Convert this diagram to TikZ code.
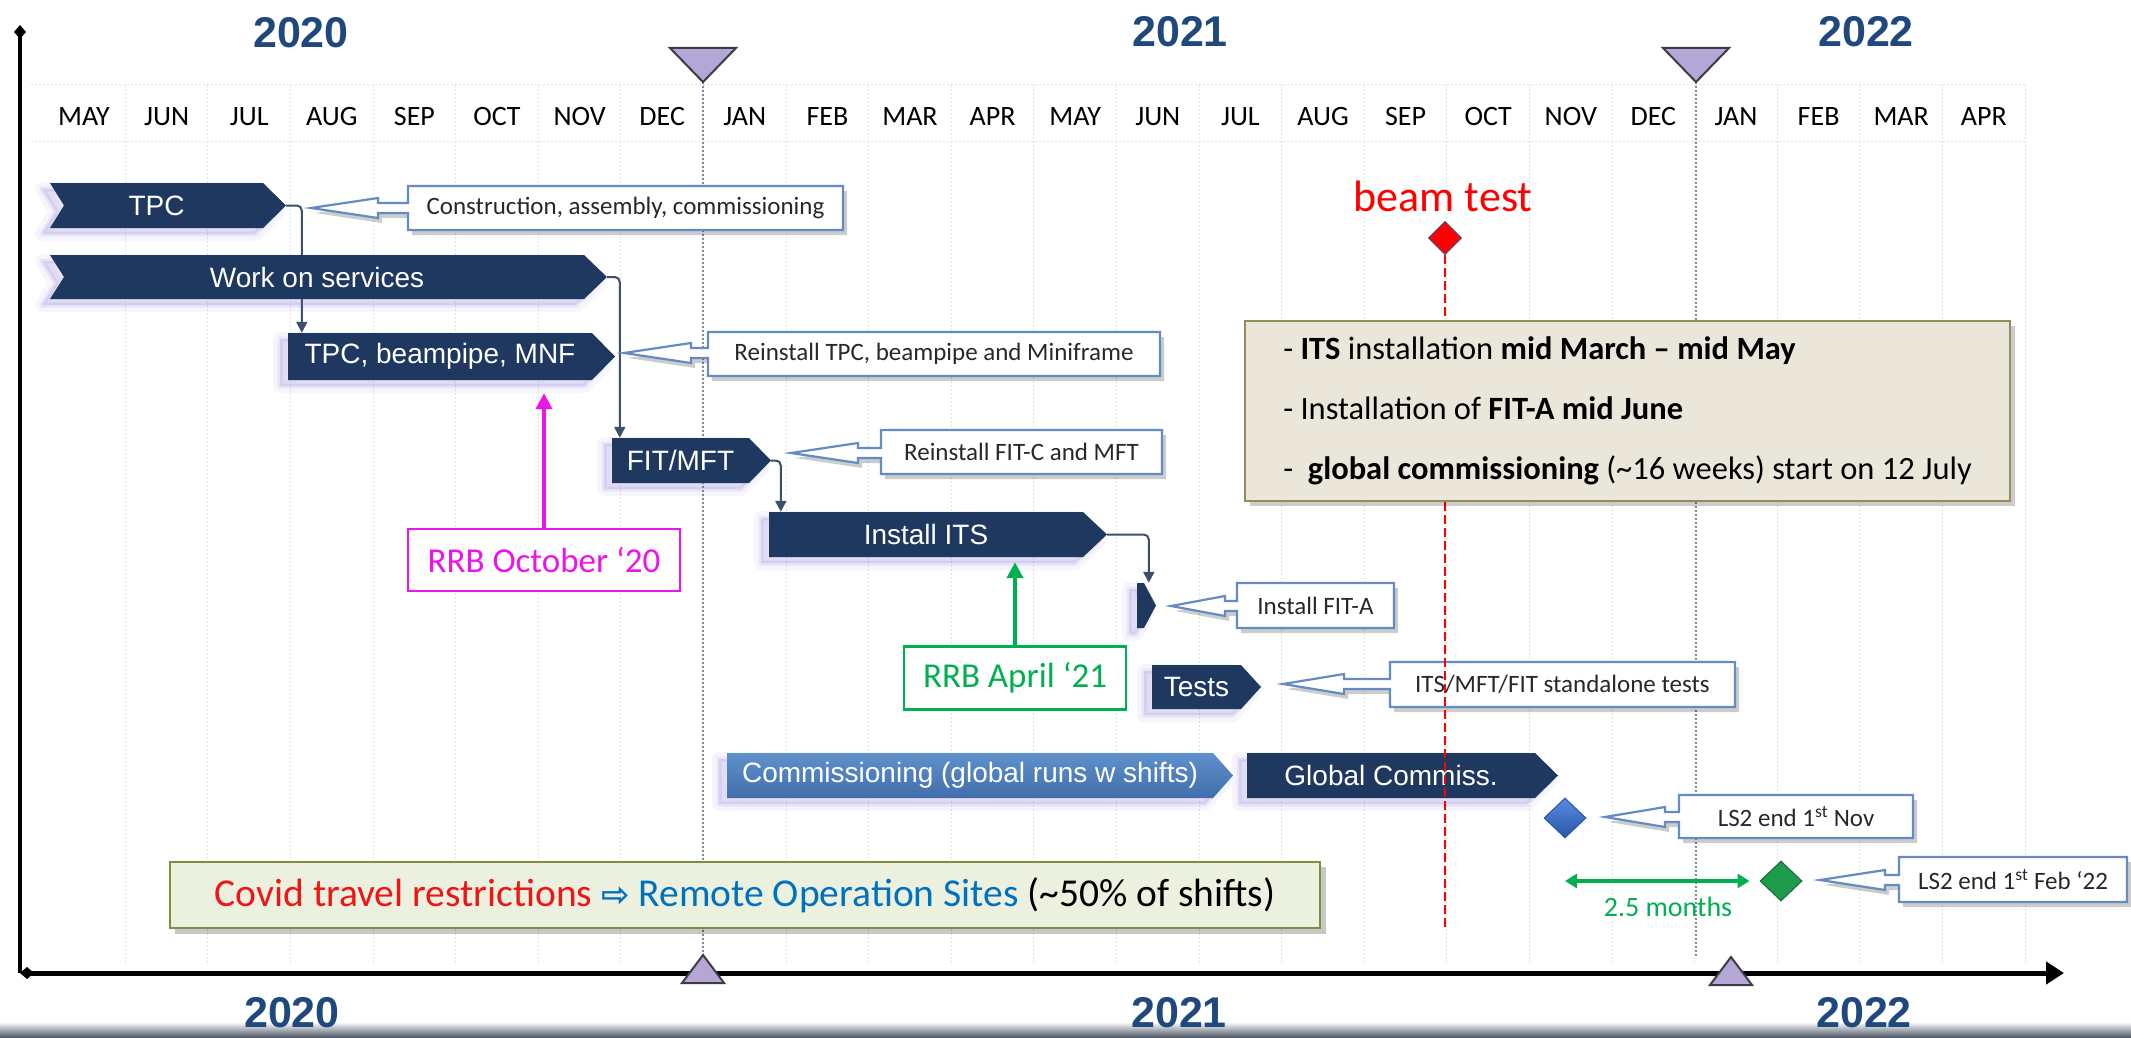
\documentclass[tikz,border=0pt]{standalone}
\usepackage{fontspec}
\setmainfont{Carlito}
\newfontfamily\arialf{Liberation Sans}
\newfontfamily\dejavu{DejaVu Sans}
\usetikzlibrary{arrows.meta,shapes.geometric,calc}
\pgfdeclarelayer{base}
\pgfdeclarelayer{grid}
\pgfdeclarelayer{conn}
\pgfdeclarelayer{mid}
\pgfsetlayers{base,grid,conn,mid,main}

\definecolor{navy}{RGB}{31,56,96}
\definecolor{yearc}{RGB}{31,73,125}
\definecolor{commtop}{RGB}{95,145,205}
\definecolor{commbot}{RGB}{65,110,170}
\definecolor{glowc}{RGB}{110,90,210}
\definecolor{callb}{RGB}{100,140,195}
\definecolor{calltxt}{RGB}{40,40,40}
\definecolor{connc}{RGB}{60,80,110}
\definecolor{lav}{RGB}{180,167,214}
\definecolor{gridc}{RGB}{226,226,226}
\definecolor{yearline}{RGB}{130,140,160}
\definecolor{rrbmag}{RGB}{235,20,235}
\definecolor{rrbgreen}{RGB}{0,176,80}
\definecolor{beigef}{RGB}{234,231,218}
\definecolor{beiged}{RGB}{150,140,90}
\definecolor{covidf}{RGB}{235,241,222}
\definecolor{covidd}{RGB}{120,145,65}
\definecolor{blueT}{RGB}{0,112,192}
\definecolor{covred}{RGB}{240,20,20}
\definecolor{diamtop}{RGB}{90,140,225}
\definecolor{diambot}{RGB}{40,85,170}
\definecolor{diamgreen}{RGB}{30,155,75}

\tikzset{
  bartext/.style={text=white, font=\arialf\fontsize{28}{32}\selectfont, inner sep=0pt},
  calltext/.style={text=calltxt, font=\fontsize{25}{28}\selectfont, inner sep=0pt},
  callbox/.style={fill=white, draw=callb, line width=2.2pt, line join=miter},
  conn/.style={draw=connc, line width=2pt, rounded corners=5pt, -{Triangle[length=11pt,width=11pt]}},
  month/.style={font=\fontsize{28}{30}\selectfont, inner sep=0pt},
  year/.style={font=\arialf\bfseries\fontsize{43}{45}\selectfont, text=yearc, inner sep=0pt},
  gridline/.style={draw=gridc, line width=1pt, dash pattern=on 2pt off 2pt},
  yearln/.style={draw=yearline, line width=1.5pt, dash pattern=on 2pt off 2pt},
  tri/.style={fill=lav, draw={rgb,255:red,60;green,60;blue,70}, line width=2pt, line join=miter},
  rrbbox/.style={fill=white, line width=2.5pt, inner sep=0pt, font=\fontsize{35}{40}\selectfont},
}

% bar: name, fill style, x0, x1, xtip, ytop, ybot, notch, text
\newcommand{\gbar}[9]{%
  \begin{pgfonlayer}{mid}
    \begin{scope}[shift={(-8,6)}]
      \filldraw[glowc, opacity=0.06, line width=14pt, line join=round] (#3,#6) -- (#4,#6) -- (#5,{(#6+#7)/2}) -- (#4,#7) -- (#3,#7) -- ({#3+#8},{(#6+#7)/2}) -- cycle;
      \filldraw[glowc, opacity=0.10, line width=5pt, line join=round] (#3,#6) -- (#4,#6) -- (#5,{(#6+#7)/2}) -- (#4,#7) -- (#3,#7) -- ({#3+#8},{(#6+#7)/2}) -- cycle;
    \end{scope}
    \path[#2] (#3,#6) -- (#4,#6) -- (#5,{(#6+#7)/2}) -- (#4,#7) -- (#3,#7) -- ({#3+#8},{(#6+#7)/2}) -- cycle;
  \end{pgfonlayer}
  \node[bartext, minimum width={(#4-#3)*1pt}, minimum height={(#7-#6)*1pt}] (#1) at ({(#3+#4)/2},{(#6+#7)/2}) {#9};
  \coordinate (#1-tip) at (#5,{(#6+#7)/2});
}

% callout: name, bx0, bx1, by0, by1, tipx, tipy, headx, text
\newcommand{\callout}[9]{%
  \begin{pgfonlayer}{mid}
    \fill[black, opacity=0.2, shift={(4,5)}] (#2,#4) -- (#3,#4) -- (#3,#5) -- (#2,#5) -- (#2,{#7+5}) -- (#8,{#7+5}) -- (#8,{#7+10}) -- (#6,#7) -- (#8,{#7-10}) -- (#8,{#7-5}) -- (#2,{#7-5}) -- cycle;
    \path[callbox] (#2,#4) -- (#3,#4) -- (#3,#5) -- (#2,#5) -- (#2,{#7+5}) -- (#8,{#7+5}) -- (#8,{#7+10}) -- (#6,#7) -- (#8,{#7-10}) -- (#8,{#7-5}) -- (#2,{#7-5}) -- cycle;
  \end{pgfonlayer}
  \node[calltext] (#1) at ({(#2+#3)/2},{(#4+#5)/2}) {#9};
  \coordinate (#1-tip) at (#6,#7);
}

\begin{document}
\begin{tikzpicture}[x=1pt,y=-1pt]
\useasboundingbox (0,0) rectangle (2131,1038);
\begin{pgfonlayer}{base}
  \fill[white] (0,0) rectangle (2131,1038);
  \shade[top color=white, bottom color={rgb,255:red,70;green,80;blue,95}] (0,1022) rectangle (2131,1038);
\end{pgfonlayer}

% grid
\begin{pgfonlayer}{grid}
  \foreach \k in {0,...,23} \draw[gridline] ({84+82.6*(\k+0.5)},85) -- ({84+82.6*(\k+0.5)},965);
  \draw[gridline] (31,85) -- (2027,85);
  \draw[gridline] (31,142) -- (2027,142);
  \draw[yearln] (703,82) -- (703,955);
  \draw[yearln] (1696,82) -- (1696,957);
\end{pgfonlayer}

% months
\foreach \m [count=\i from 0] in {MAY,JUN,JUL,AUG,SEP,OCT,NOV,DEC,JAN,FEB,MAR,APR,MAY,JUN,JUL,AUG,SEP,OCT,NOV,DEC,JAN,FEB,MAR,APR}
  \node[month] (m\i) at ({84+82.6*\i},117) {\m};

% years
\node[year] (y20t) at (301,33) {2020};
\node[year] (y21t) at (1180,32) {2021};
\node[year] (y22t) at (1866,32) {2022};
\node[year] (y20b) at (292,1013) {2020};
\node[year] (y21b) at (1179,1013) {2021};
\node[year] (y22b) at (1864,1013) {2022};

% axes
\draw[line width=4pt, {Diamond[length=14pt,width=12pt]}-] (20,25) -- (20,973);
\draw[line width=5pt, {Diamond[length=14pt,width=12pt]}-{Triangle[length=18pt,width=22pt]}] (20,973) -- (2064,973);

% triangles
\draw[tri] (670,48) -- (736,48) -- (703,82) -- cycle;
\draw[tri] (1663,48) -- (1729,48) -- (1696,82) -- cycle;
\draw[tri] (682,983) -- (724,983) -- (703,955) -- cycle;
\draw[tri] (1710,985) -- (1752,985) -- (1731,957) -- cycle;

% bars
\gbar{tpc}{fill=navy}{50}{263}{286}{183}{228}{14}{TPC}
\gbar{work}{fill=navy}{50}{584}{607}{255}{299}{14}{Work on services}
\gbar{bp}{fill=navy}{288}{592}{615}{333}{380}{0}{TPC, beampipe, MNF}
\gbar{fit}{fill=navy}{612}{749}{771}{438}{483}{0}{FIT/MFT}
\gbar{its}{fill=navy}{769}{1083}{1107}{512}{557}{0}{Install ITS}
\gbar{fita}{fill=navy}{1137}{1144}{1156}{583}{628}{0}{}
\gbar{tests}{fill=navy}{1152}{1241}{1261}{665}{709}{0}{Tests}
\gbar{comm}{top color=commtop,bottom color=commbot}{727}{1213}{1233}{753}{798}{0}{Commissioning (global runs w shifts)}
\gbar{glob}{fill=navy}{1247}{1535}{1558}{753}{798}{0}{Global Commiss.}

% connectors
\begin{pgfonlayer}{conn}
  \draw[conn] (tpc-tip) -| ([xshift=14pt]bp.north west);
  \draw[conn] (work-tip) -| ([xshift=8pt]fit.north west);
  \draw[conn] (fit-tip) -| ([xshift=12pt]its.north west);
  \draw[conn] (its-tip) -| ([xshift=12pt]fita.north west);
\end{pgfonlayer}

% callouts
\callout{c1}{408}{843}{186}{230}{311}{208}{378}{Construction, assembly, commissioning}
\callout{c2}{708}{1160}{332}{376}{624}{353}{691}{Reinstall TPC, beampipe and Miniframe}
\callout{c3}{881}{1162}{430}{474}{791}{453}{858}{Reinstall FIT-C and MFT}
\callout{c4}{1237}{1394}{583}{628}{1171}{606}{1225}{Install FIT-A}
\callout{c5}{1390}{1735}{662}{707}{1283}{684}{1344}{ITS/MFT/FIT standalone tests}
\callout{c6}{1679}{1913}{795}{838}{1605}{817}{1665}{LS2 end 1\textsuperscript{st} Nov}
\callout{c7}{1899}{2127}{857}{902}{1820}{880}{1885}{LS2 end 1\textsuperscript{st} Feb ‘22}

% diamonds
\node[diamond, minimum width=42pt, minimum height=40pt, inner sep=0pt, top color=diamtop, bottom color=diambot, draw=diambot, line width=1pt] (bdia) at (1565,818) {};
\node[diamond, minimum width=42pt, minimum height=40pt, inner sep=0pt, fill=diamgreen, draw=diamgreen!70!black, line width=1pt] (gdia) at (1781,881) {};
\draw[rrbgreen, line width=4pt, {Triangle[length=12pt,width=14pt]}-{Triangle[length=12pt,width=14pt]}] (bdia.south |- gdia) -- ([xshift=-10pt]gdia.west);
\node[text=rrbgreen, font=\fontsize{28}{30}\selectfont, inner sep=0pt] (months) at (1668,907) {2.5 months};

% beam test
\node[text=red, font=\fontsize{44}{48}\selectfont, inner sep=0pt] (bt) at (1443,196) {beam test};
\node[diamond, minimum width=33pt, minimum height=33pt, inner sep=0pt, fill=red, draw={rgb,255:red,90;green,70;blue,110}, line width=1.2pt] (beam) at (1445,238) {};
\coordinate (beamend) at (1445,930);
\draw[red, line width=2.5pt, dash pattern=on 9pt off 4pt] (beam.south) -- (beamend);

% info box
\fill[black, opacity=0.2] (1250,326) rectangle (2015,506);
\node[fill=beigef, draw=beiged, line width=2.5pt, align=left, minimum width=765pt, minimum height=180pt, font=\fontsize{32.5}{60}\selectfont] (info) at (1627.5,411)
  {- \textbf{ITS} installation \textbf{mid March -- mid May}\\- Installation of \textbf{FIT-A mid June}\\-\ \ \textbf{global commissioning} (\textasciitilde16 weeks) start on 12 July};

% RRB boxes
\node[rrbbox, draw=rrbmag, text=rrbmag, minimum width=272pt, minimum height=62pt] (rrb1) at (544,560) {RRB October ‘20};
\draw[rrbmag, line width=4.5pt, -{Triangle[length=16pt,width=16pt]}] (rrb1.north) -- ([yshift=-13pt]rrb1.north |- bp.south);
\node[rrbbox, draw=rrbgreen, text=rrbgreen, minimum width=222pt, minimum height=63pt] (rrb2) at (1015,678) {RRB April ‘21};
\draw[rrbgreen, line width=4.5pt, -{Triangle[length=16pt,width=16pt]}] (rrb2.north) -- ([yshift=-5pt]rrb2.north |- its.south);

% covid box
\fill[black, opacity=0.22] (175,867) rectangle (1326,934);
\node[fill=covidf, draw=covidd, line width=2.5pt, minimum width=1150pt, minimum height=66pt, inner sep=0pt, font=\fontsize{39.5}{42}\selectfont] (covid) at (745,895)
  {\textcolor{covred}{Covid travel restrictions} \textcolor{blueT}{{\dejavu\bfseries\fontsize{34}{36}\selectfont ⇨}} \textcolor{blueT}{Remote Operation Sites} (\textasciitilde50\% of shifts)};

\end{tikzpicture}
\end{document}
